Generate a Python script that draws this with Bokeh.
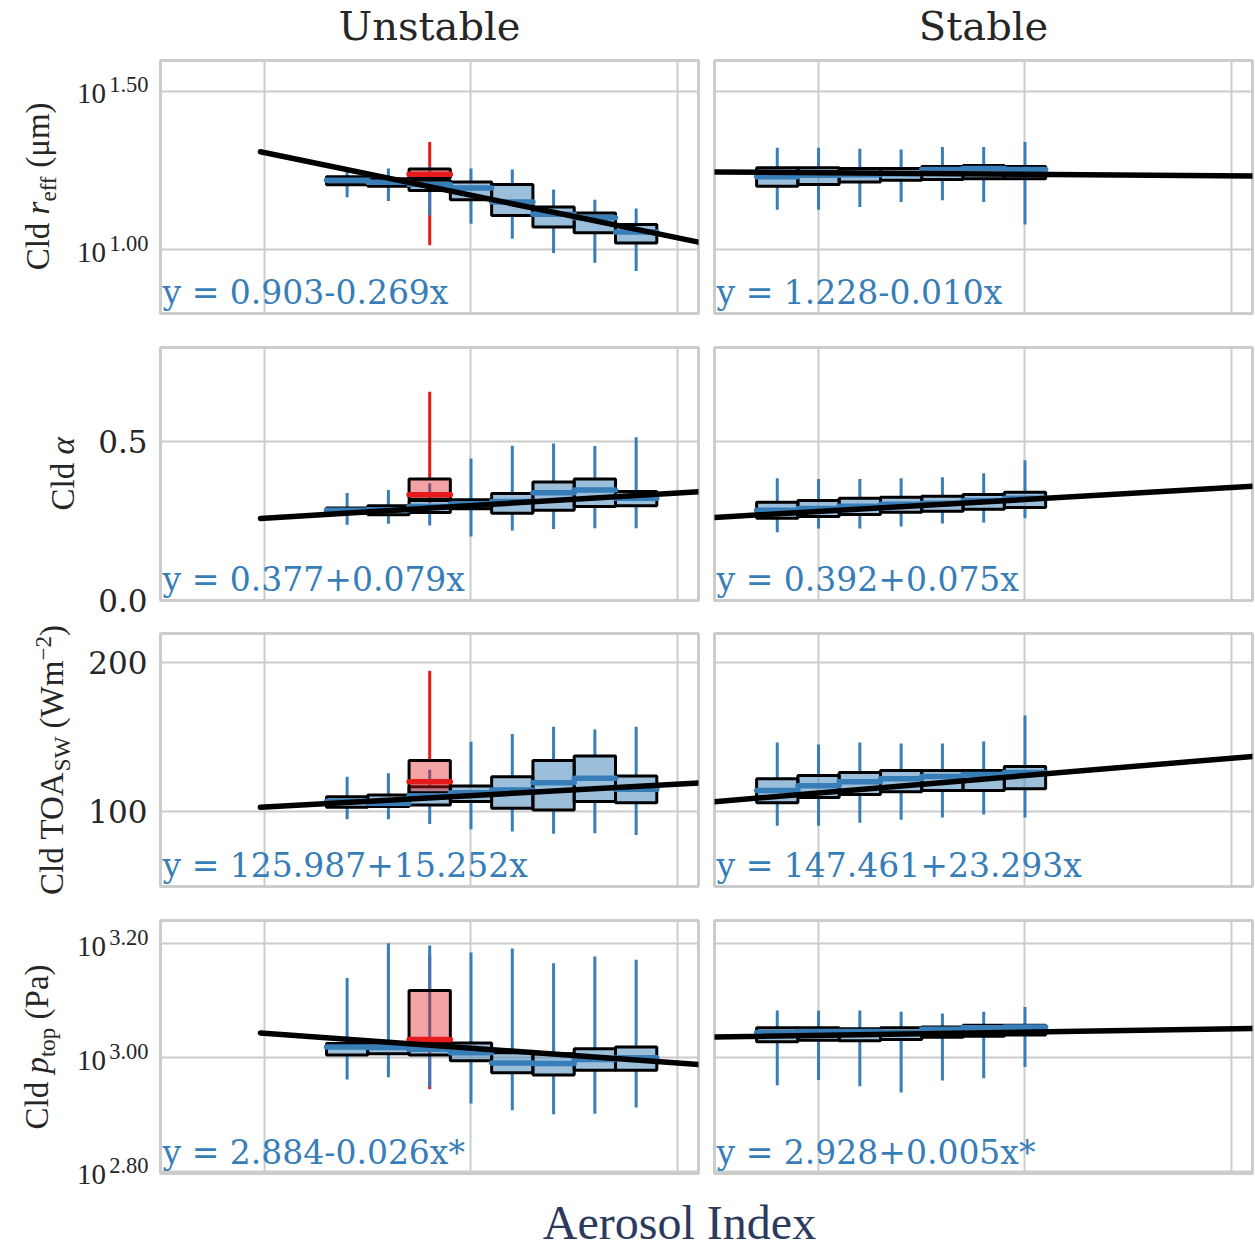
import math
from bokeh.plotting import figure
from bokeh.models import Range1d, FixedTicker, Label, ColumnDataSource
from bokeh.layouts import column, row
from bokeh.embed import file_html
from bokeh.resources import INLINE

BLUE = "#377eb8"
RED = "#e41a1c"
GRID = "#cccccc"
TXT = "#262626"
XLAB_COLOR = "#2c3a5e"
SERIF = "DejaVu Serif"
MATH = "Liberation Serif"

# ---------------- data ----------------
column_titles = ["Unstable", "Stable"]
x_axis_title = "Aerosol Index"

bins_unstable = [-1.3, -1.2, -1.1, -1.0, -0.9, -0.8, -0.7, -0.6]
bins_stable = [-1.6, -1.5, -1.4, -1.3, -1.2, -1.1, -1.0]
highlight_bin = -1.1

x_limits = [-1.752, -0.449]
x_grid_ticks = [-1.5, -1.0, -0.5]
reg_x_unstable = [-1.51, -0.449]
reg_x_stable = [-1.752, -0.449]

# Row 1: cloud effective radius (log10 um)
reff_u_lo = [1.166, 1.154, 1.108, 1.082, 1.035, 0.990, 0.959, 0.933]
reff_u_q1 = [1.205, 1.200, 1.187, 1.158, 1.108, 1.072, 1.054, 1.021]
reff_u_med = [1.219, 1.213, 1.206, 1.195, 1.151, 1.112, 1.101, 1.056]
reff_u_q3 = [1.230, 1.224, 1.219, 1.214, 1.206, 1.135, 1.116, 1.080]
reff_u_hi = [1.251, 1.256, 1.263, 1.256, 1.253, 1.190, 1.158, 1.130]
reff_hl = [1.014, 1.227, 1.238, 1.255, 1.340]  # lo, q1, med, q3, hi
reff_s_lo = [1.126, 1.126, 1.135, 1.151, 1.156, 1.151, 1.080]
reff_s_q1 = [1.200, 1.206, 1.214, 1.219, 1.222, 1.224, 1.224]
reff_s_med = [1.230, 1.235, 1.237, 1.240, 1.253, 1.256, 1.253]
reff_s_q3 = [1.259, 1.259, 1.256, 1.256, 1.263, 1.266, 1.263]
reff_s_hi = [1.322, 1.322, 1.319, 1.316, 1.324, 1.324, 1.340]
reff_reg_u = [1.309, 1.024]
reff_reg_s = [1.2455, 1.2325]
reff_eq = ["y = 0.903-0.269x", "y = 1.228-0.010x"]
reff_ylim = [0.799, 1.597]
reff_ticks = [1.0, 1.5]

# Row 2: cloud albedo
alb_u_lo = [0.238, 0.241, 0.235, 0.201, 0.220, 0.224, 0.227, 0.227]
alb_u_q1 = [0.274, 0.269, 0.276, 0.288, 0.274, 0.283, 0.295, 0.297]
alb_u_med = [0.283, 0.285, 0.295, 0.303, 0.311, 0.338, 0.347, 0.321]
alb_u_q3 = [0.290, 0.297, 0.314, 0.316, 0.336, 0.372, 0.381, 0.342]
alb_u_hi = [0.337, 0.347, 0.368, 0.446, 0.486, 0.493, 0.485, 0.512]
alb_hl = [0.305, 0.318, 0.332, 0.381, 0.655]
alb_s_lo = [0.214, 0.226, 0.226, 0.232, 0.242, 0.245, 0.258]
alb_s_q1 = [0.258, 0.264, 0.270, 0.277, 0.280, 0.286, 0.292]
alb_s_med = [0.283, 0.289, 0.296, 0.302, 0.305, 0.314, 0.321]
alb_s_q3 = [0.308, 0.314, 0.321, 0.324, 0.327, 0.333, 0.340]
alb_s_hi = [0.384, 0.381, 0.381, 0.384, 0.387, 0.399, 0.440]
alb_reg_u = [0.2577, 0.3415]
alb_reg_s = [0.2606, 0.3583]
alb_eq = ["y = 0.377+0.079x", "y = 0.392+0.075x"]
alb_ylim = [0.0, 0.794]
alb_ticks = [0.0, 0.5]
alb_tick_labels = ["0.0", "0.5"]

# Row 3: cloud TOA shortwave (W m-2)
toa_u_lo = [94.9, 94.9, 91.7, 88.2, 86.6, 85.1, 85.5, 84.4]
toa_u_q1 = [102.9, 103.4, 104.5, 106.7, 102.2, 101.1, 106.7, 106.0]
toa_u_med = [106.9, 105.6, 110.7, 112.7, 114.5, 119.4, 122.3, 115.0]
toa_u_q3 = [110.0, 111.2, 116.7, 117.2, 123.4, 134.2, 137.3, 123.9]
toa_u_hi = [123.4, 125.7, 128.0, 146.9, 152.0, 156.9, 155.1, 156.9]
toa_hl = [110.0, 112.7, 120.1, 134.2, 194.4]
toa_s_lo = [90.6, 90.6, 92.6, 94.6, 96.0, 98.0, 96.0]
toa_s_q1 = [106.0, 109.4, 111.4, 113.4, 114.1, 114.1, 115.4]
toa_s_med = [114.1, 117.4, 120.1, 122.1, 123.5, 124.8, 126.2]
toa_s_q3 = [122.1, 124.2, 126.2, 127.5, 127.5, 127.5, 130.2]
toa_s_hi = [146.3, 145.0, 146.3, 145.6, 145.6, 147.0, 164.4]
toa_reg_u = [102.95, 119.14]
toa_reg_s = [106.65, 137.0]
toa_eq = ["y = 125.987+15.252x", "y = 147.461+23.293x"]
toa_ylim = [49.8, 219.4]
toa_ticks = [100, 200]
toa_tick_labels = ["100", "200"]

# Row 4: cloud top pressure (log10 Pa)
ptop_u_lo = [2.962, 2.966, 2.949, 2.920, 2.908, 2.901, 2.902, 2.913]
ptop_u_q1 = [3.005, 3.007, 3.005, 2.995, 2.974, 2.970, 2.978, 2.978]
ptop_u_med = [3.019, 3.018, 3.015, 3.009, 2.991, 2.990, 2.997, 3.000]
ptop_u_q3 = [3.025, 3.026, 3.026, 3.026, 3.009, 3.007, 3.016, 3.019]
ptop_u_hi = [3.140, 3.201, 3.197, 3.185, 3.192, 3.166, 3.178, 3.172]
ptop_hl = [2.945, 3.030, 3.032, 3.118, 3.180]
ptop_s_lo = [2.952, 2.961, 2.950, 2.939, 2.960, 2.964, 2.984]
ptop_s_q1 = [3.028, 3.031, 3.030, 3.032, 3.036, 3.038, 3.040]
ptop_s_med = [3.044, 3.046, 3.046, 3.044, 3.050, 3.053, 3.054]
ptop_s_q3 = [3.053, 3.053, 3.051, 3.053, 3.054, 3.057, 3.057]
ptop_s_hi = [3.083, 3.083, 3.083, 3.081, 3.078, 3.081, 3.089]
ptop_reg_u = [3.0437, 2.9883]
ptop_reg_s = [3.0367, 3.0513]
ptop_eq = ["y = 2.884-0.026x*", "y = 2.928+0.005x*"]
ptop_ylim = [2.797, 3.241]
ptop_ticks = [2.8, 3.0, 3.2]

# y-axis label pieces: (text, italic, level, gap_after_in_em)
# level -1 = subscript, +1 = superscript
reff_label = [("Cld", False, 0, 0.25), ("r", True, 0, 0), ("eff", False, -1, 0.25), ("(μm)", False, 0, 0)]
alb_label = [("Cld", False, 0, 0.25), ("α", True, 0, 0)]
toa_label = [("Cld TOA", False, 0, 0), ("SW", False, -1, 0.25), ("(Wm", False, 0, 0),
             ("−2", False, 1, 0), (")", False, 0, 0)]
ptop_label = [("Cld", False, 0, 0.25), ("p", True, 0, 0), ("top", False, -1, 0.25), ("(Pa)", False, 0, 0)]

rows_spec = [
    dict(log=True, ylim=reff_ylim, ticks=reff_ticks, tick_labels=None, label=reff_label, label_x=49,
         eq=reff_eq, u=(reff_u_lo, reff_u_q1, reff_u_med, reff_u_q3, reff_u_hi), hl=reff_hl,
         s=(reff_s_lo, reff_s_q1, reff_s_med, reff_s_q3, reff_s_hi), reg=(reff_reg_u, reff_reg_s)),
    dict(log=False, ylim=alb_ylim, ticks=alb_ticks, tick_labels=alb_tick_labels, label=alb_label,
         label_x=74, eq=alb_eq, u=(alb_u_lo, alb_u_q1, alb_u_med, alb_u_q3, alb_u_hi), hl=alb_hl,
         s=(alb_s_lo, alb_s_q1, alb_s_med, alb_s_q3, alb_s_hi), reg=(alb_reg_u, alb_reg_s)),
    dict(log=False, ylim=toa_ylim, ticks=toa_ticks, tick_labels=toa_tick_labels, label=toa_label,
         label_x=63, eq=toa_eq, u=(toa_u_lo, toa_u_q1, toa_u_med, toa_u_q3, toa_u_hi), hl=toa_hl,
         s=(toa_s_lo, toa_s_q1, toa_s_med, toa_s_q3, toa_s_hi), reg=(toa_reg_u, toa_reg_s)),
    dict(log=True, ylim=ptop_ylim, ticks=ptop_ticks, tick_labels=None, label=ptop_label, label_x=48,
         eq=ptop_eq, u=(ptop_u_lo, ptop_u_q1, ptop_u_med, ptop_u_q3, ptop_u_hi), hl=ptop_hl,
         s=(ptop_s_lo, ptop_s_q1, ptop_s_med, ptop_s_q3, ptop_s_hi), reg=(ptop_reg_u, ptop_reg_s)),
]

# ---------------- layout constants (page pixels) ----------------
PAGE_H = 1249
FRAME_W = 538
FRAME_H = 253
TITLE_H = 58
BORDER_TOP = [2, 17, 15, 17]
BORDER_BOTTOM = [17, 18, 17, 20]
STRIP_W = 158
U_LEFT, U_RIGHT = 2, 8
S_LEFT, S_RIGHT = 8, 3
TOTAL_W = STRIP_W + U_LEFT + FRAME_W + U_RIGHT + S_LEFT + FRAME_W + S_RIGHT
XLAB_H = PAGE_H - TITLE_H - sum(BORDER_TOP) - sum(BORDER_BOTTOM) - 4 * FRAME_H
XLAB_BASELINE = 1238  # page y of the x-axis title baseline
BOX_W = 0.1
MID_DV = 0.345   # em distance from baseline to the "middle" anchor, DejaVu Serif
MID_LS = 0.34    # same for Liberation Serif

W_N = {'C': 667, 'l': 278, 'd': 500, ' ': 250, '(': 333, ')': 333, 'μ': 500, 'm': 778,
       'T': 611, 'O': 722, 'A': 722, 'S': 556, 'W': 944, '−': 564, '2': 500, 'P': 556,
       'a': 444, 'e': 444, 'f': 333, 't': 278, 'o': 500, 'p': 500}
W_I = {'r': 389, 'p': 500, 'α': 520}


def text_w(s, size, italic):
    tbl = W_I if italic else W_N
    return sum(tbl.get(c, 500) for c in s) / 1000.0 * size


def tr(v, log):
    return 10 ** v if log else v


def ydata(spec, frac):
    l0, l1 = spec["ylim"]
    return tr(l0 + frac * (l1 - l0), spec["log"])


def blank(width, height):
    f = figure(width=width, height=height, x_range=Range1d(0, width), y_range=Range1d(0, height),
               x_axis_location=None, y_axis_location=None, toolbar_location=None,
               output_backend="svg", min_border=0, outline_line_color=None, title=None,
               background_fill_color="white", border_fill_color="white", frame_align=False)
    f.grid.visible = False
    return f


def make_strip(ri):
    spec = rows_spec[ri]
    bb = BORDER_BOTTOM[ri]
    h = BORDER_TOP[ri] + FRAME_H + bb
    f = blank(STRIP_W, h)
    l0, l1 = spec["ylim"]
    for k, t in enumerate(spec["ticks"]):
        ypx = bb + (t - l0) / (l1 - l0) * FRAME_H
        if spec["log"]:
            f.add_layout(Label(x=105.5, y=ypx - 12.6 + MID_LS * 29, text="10", text_font=MATH,
                               text_font_size="29px", text_color=TXT, text_align="right",
                               text_baseline="middle"))
            f.add_layout(Label(x=148, y=ypx - 1 + MID_LS * 22.5, text="%.2f" % t, text_font=MATH,
                               text_font_size="22.5px", text_color=TXT, text_align="right",
                               text_baseline="middle"))
        else:
            f.add_layout(Label(x=147, y=ypx, text=spec["tick_labels"][k], text_font=SERIF,
                               text_font_size="31px", text_color=TXT, text_align="right",
                               text_baseline="middle"))
    pieces = spec["label"]
    sizes = [33 if lv == 0 else 23 for (_, _, lv, _) in pieces]
    widths = [text_w(t, s, it) + g * 33 for (t, it, lv, g), s in zip(pieces, sizes)]
    pos = bb + FRAME_H / 2 - sum(widths) / 2
    for (t, it, lv, g), s, w in zip(pieces, sizes, widths):
        base = spec["label_x"] + (7 if lv < 0 else (-12 if lv > 0 else 0))
        f.add_layout(Label(x=base - MID_LS * s, y=pos, angle=math.pi / 2, text=t,
                           text_font=MATH, text_font_size="%dpx" % s,
                           text_font_style="italic" if it else "normal", text_color=TXT,
                           text_align="left", text_baseline="middle"))
        pos += w
    return f


def make_panel(ri, ci):
    spec = rows_spec[ri]
    log = spec["log"]
    unstable = ci == 0
    p = figure(frame_width=FRAME_W, frame_height=FRAME_H,
               min_border_left=U_LEFT if unstable else S_LEFT,
               min_border_right=U_RIGHT if unstable else S_RIGHT,
               min_border_top=BORDER_TOP[ri], min_border_bottom=BORDER_BOTTOM[ri],
               x_range=Range1d(*x_limits),
               y_range=Range1d(tr(spec["ylim"][0], log), tr(spec["ylim"][1], log)),
               y_axis_type="log" if log else "linear",
               x_axis_location=None, y_axis_location=None, title=None,
               toolbar_location=None, output_backend="svg",
               background_fill_color="white", border_fill_color="white",
               outline_line_color=GRID, outline_line_width=3)
    p.xgrid.ticker = FixedTicker(ticks=x_grid_ticks)
    p.ygrid.ticker = FixedTicker(ticks=[tr(t, log) for t in spec["ticks"]])
    p.grid.grid_line_color = GRID
    p.grid.grid_line_width = 2

    xs = bins_unstable if unstable else bins_stable
    lo, q1, med, q3, hi = spec["u"] if unstable else spec["s"]
    src = ColumnDataSource(dict(
        x=xs, left=[x - BOX_W / 2 for x in xs], right=[x + BOX_W / 2 for x in xs],
        lo=[tr(v, log) for v in lo], q1=[tr(v, log) for v in q1], med=[tr(v, log) for v in med],
        q3=[tr(v, log) for v in q3], hi=[tr(v, log) for v in hi]))

    if unstable:
        h = spec["hl"]
        hsrc = ColumnDataSource(dict(
            x=[highlight_bin], left=[highlight_bin - BOX_W / 2], right=[highlight_bin + BOX_W / 2],
            lo=[tr(h[0], log)], q1=[tr(h[1], log)], med=[tr(h[2], log)],
            q3=[tr(h[3], log)], hi=[tr(h[4], log)]))
        p.segment(x0="x", y0="q3", x1="x", y1="hi", source=hsrc, line_color=RED, line_width=3)
        p.segment(x0="x", y0="q1", x1="x", y1="lo", source=hsrc, line_color=RED, line_width=3)

    p.segment(x0="x", y0="q3", x1="x", y1="hi", source=src, line_color=BLUE, line_width=3)
    p.segment(x0="x", y0="q1", x1="x", y1="lo", source=src, line_color=BLUE, line_width=3)
    p.quad(left="left", right="right", bottom="q1", top="q3", source=src,
           fill_color=BLUE, fill_alpha=0.5, line_color="black", line_width=3)
    if unstable:
        p.quad(left="left", right="right", bottom="q1", top="q3", source=hsrc,
               fill_color=RED, fill_alpha=0.4, line_color="black", line_width=3)
    p.segment(x0="left", y0="med", x1="right", y1="med", source=src,
              line_color=BLUE, line_width=5.5, line_cap="round")
    if unstable:
        p.segment(x0="left", y0="med", x1="right", y1="med", source=hsrc,
                  line_color=RED, line_width=5.5, line_cap="round")

    reg_y = spec["reg"][0] if unstable else spec["reg"][1]
    reg_x = reg_x_unstable if unstable else reg_x_stable
    p.line(reg_x, [tr(v, log) for v in reg_y], line_color="black", line_width=5.5, line_cap="round")

    # regression equation: baseline 10 px above the bottom of the frame
    p.add_layout(Label(x=x_limits[0], y=ydata(spec, (10.0 + MID_DV * 33) / FRAME_H), x_offset=2,
                       text=spec["eq"][ci], text_font=SERIF, text_font_size="33px",
                       text_color=BLUE, text_align="left", text_baseline="middle"))
    return p


# title strip
title_fig = blank(TOTAL_W, TITLE_H)
u_center = STRIP_W + U_LEFT + FRAME_W / 2
s_center = STRIP_W + U_LEFT + FRAME_W + U_RIGHT + S_LEFT + FRAME_W / 2
for txt, cx in zip(column_titles, [u_center, s_center]):
    title_fig.add_layout(Label(x=cx, y=TITLE_H - 39.3 + MID_DV * 40, text=txt, text_font=SERIF,
                               text_font_size="40px", text_color=TXT, text_align="center",
                               text_baseline="middle"))

rows_layout = [title_fig]
for ri in range(4):
    rows_layout.append(row(make_strip(ri), make_panel(ri, 0), make_panel(ri, 1)))

xl = blank(TOTAL_W, XLAB_H)
xl.add_layout(Label(x=679, y=(PAGE_H - XLAB_BASELINE) + MID_LS * 48,
                    text=x_axis_title, text_font=MATH,
                    text_font_size="48px", text_color=XLAB_COLOR, text_align="center",
                    text_baseline="middle"))
rows_layout.append(xl)

layout = column(*rows_layout)
open("out.html", "w").write(file_html(layout, INLINE))
